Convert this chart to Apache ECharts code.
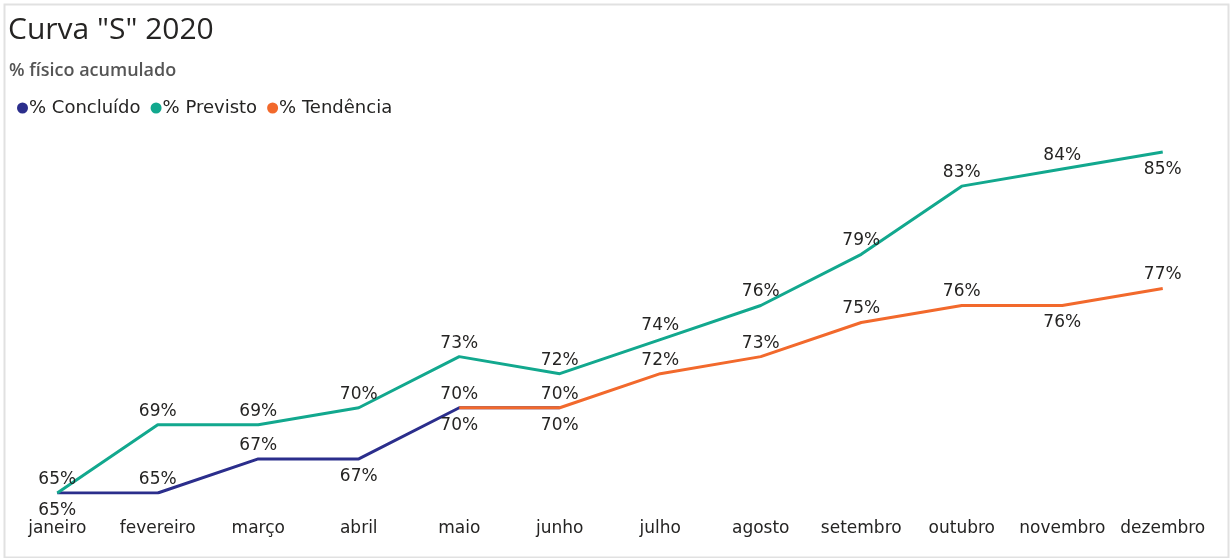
<!DOCTYPE html>
<html>
<head>
<meta charset="utf-8">
<script src="https://cdn.jsdelivr.net/npm/echarts@6/dist/echarts.min.js"></script>
<style>
html,body{margin:0;padding:0;background:#fff;}
#c{width:1230px;height:558px;}
</style>
</head>
<body>
<div id="c"></div>
<script>
const categories = ['janeiro','fevereiro','março','abril','maio','junho','julho','agosto','setembro','outubro','novembro','dezembro'];
const concluido = [65, 65, 67, 67, 70, 70, null, null, null, null, null, null];
const previsto  = [65, 69, 69, 70, 73, 72, 74, 76, 79, 83, 84, 85];
const tendencia = [null, null, null, null, 70, 70, 72, 73, 75, 76, 76, 77];
const concluidoLabelPos = ['bottom','top','top','bottom','bottom','bottom','top','top','top','top','top','top'];
const previstoLabelPos  = ['top','top','top','top','top','top','top','top','top','top','top','bottom'];
const tendenciaLabelPos = ['top','top','top','top','top','top','top','top','top','top','bottom','top'];

const FONT = 'DejaVu Sans';
const labelStyle = { show: true, formatter: p => p.value + '%', fontFamily: FONT, fontSize: 17, color: '#252423', distance: 5 };

function mk(vals, pos) {
  return vals.map((v, i) => (v == null ? null : {
    value: v,
    label: { position: pos[i], distance: pos[i] === 'bottom' ? 9 : 5 }
  }));
}

function line(name, vals, pos, color, z) {
  return {
    name, type: 'line', data: mk(vals, pos), color,
    lineStyle: { width: 3 }, showSymbol: true, symbol: 'circle', symbolSize: 0,
    itemStyle: { color }, label: labelStyle, z, emphasis: { disabled: true }
  };
}

const chart = echarts.init(document.getElementById('c'), null, { renderer: 'canvas' });
chart.setOption({
  animation: false,
  backgroundColor: '#fff',
  graphic: [{
    type: 'rect', left: 2, top: 2,
    shape: { width: 1224, height: 553 },
    style: { fill: 'none', stroke: '#e1e1e1', lineWidth: 2 },
    silent: true
  }],
  title: [
    { text: 'Curva "S" 2020', left: 3, top: 10, textStyle: { fontFamily: 'Open Sans', fontSize: 30, fontWeight: 'normal', color: '#252423' } },
    { text: '% físico acumulado', left: 4, top: 57, textStyle: { fontFamily: 'Open Sans', fontSize: 18, fontWeight: 600, color: '#555555', letterSpacing: -0.4 } }
  ],
  legend: {
    left: 12, top: 94, itemGap: 10, itemWidth: 11, itemHeight: 11, icon: 'circle',
    textStyle: { fontFamily: FONT, fontSize: 18, color: '#252423', padding: [0, 0, 0, -4] },
    data: ['% Concluído', '% Previsto', '% Tendência']
  },
  grid: { left: 7, right: 17, top: 135, bottom: 65, containLabel: false },
  xAxis: {
    type: 'category', data: categories, boundaryGap: true,
    axisLine: { show: false }, axisTick: { show: false },
    axisLabel: { fontFamily: FONT, fontSize: 17, color: '#252423', margin: 27, interval: 0 }
  },
  yAxis: {
    type: 'value', min: 65, max: 86, show: false, splitLine: { show: false }
  },
  series: [
    line('% Concluído', concluido, concluidoLabelPos, '#2B2E8C', 2),
    line('% Previsto', previsto, previstoLabelPos, '#12A88E', 3),
    line('% Tendência', tendencia, tendenciaLabelPos, '#F2692C', 4)
  ]
});
</script>
</body>
</html>
